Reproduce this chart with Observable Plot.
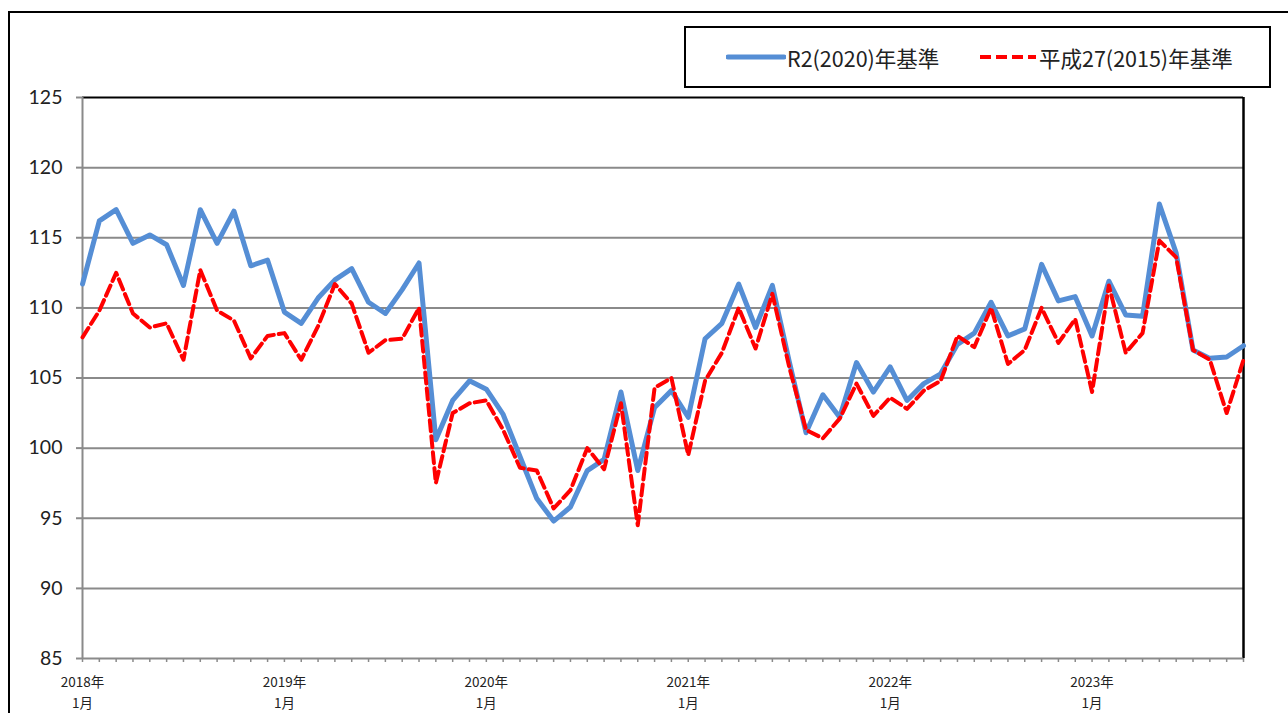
<!DOCTYPE html>
<html>
<head>
<meta charset="utf-8">
<script src="https://cdn.jsdelivr.net/npm/d3@7"></script>
<script src="https://cdn.jsdelivr.net/npm/@observablehq/plot@0.6"></script>
<style>
  html, body { margin: 0; padding: 0; background: #fff; }
  #wrap { position: relative; width: 1288px; height: 713px; overflow: hidden; background: #fff; }
  #frame { position: absolute; left: 8px; top: 11px; width: 1400px; height: 800px; border: 2px solid #000; box-sizing: border-box; }
  #legend { position: absolute; left: 684px; top: 26px; width: 587px; height: 62px; border: 2px solid #000; box-sizing: border-box; background: #fff;
            font-family: "Noto Sans CJK JP", "Noto Sans", sans-serif; font-size: 21.5px; color: #222; }
  .item { position: absolute; top: 0; height: 58px; display: flex; align-items: center; white-space: nowrap; }
  .item svg { display: block; margin-right: 1px; }
  #chart { position: absolute; left: 0; top: 0; }
</style>
</head>
<body>
<div id="wrap">
  <div id="frame"></div>
  <div id="chart"></div>
  <div id="legend"></div>
</div>
<script>
// Series names
const seriesNames = ["R2(2020)年基準", "平成27(2015)年基準"];
// Month index 0 = 2018年1月 ... 69 = 2023年10月
const startYear = 2018;
const r2 = [
  111.7,116.2,117.0,114.6,115.2,114.5,111.6,117.0,114.6,116.9,113.0,113.4,
  109.7,108.9,110.7,112.0,112.8,110.4,109.6,111.3,113.2,100.6,103.4,104.8,
  104.2,102.4,99.4,96.4,94.8,95.8,98.4,99.2,104.0,98.4,102.9,104.1,
  102.2,107.8,108.9,111.7,108.6,111.6,106.2,101.1,103.8,102.2,106.1,104.0,
  105.8,103.4,104.6,105.3,107.4,108.2,110.4,108.0,108.5,113.1,110.5,110.8,
  108.0,111.9,109.5,109.4,117.4,113.9,107.0,106.4,106.5,107.3
];
const h27 = [
  107.9,109.8,112.5,109.6,108.6,108.9,106.3,112.7,109.8,109.1,106.4,108.0,
  108.2,106.3,108.7,111.7,110.3,106.8,107.7,107.8,110.0,97.5,102.5,103.2,
  103.4,101.3,98.6,98.4,95.7,97.0,100.0,98.5,103.2,94.5,104.3,105.0,
  99.5,104.8,106.8,110.0,107.1,111.0,105.8,101.3,100.7,102.1,104.6,102.3,
  103.6,102.8,104.1,104.8,108.0,107.2,110.0,106.0,107.0,110.0,107.5,109.2,
  104.0,111.6,106.8,108.2,114.8,113.6,107.0,106.3,102.5,106.3
];
const yTicks = [85, 90, 95, 100, 105, 110, 115, 120, 125];
const xLabelIdx = [0, 12, 24, 36, 48, 60];
const xLabels = ["2018年\n1月", "2019年\n1月", "2020年\n1月", "2021年\n1月", "2022年\n1月", "2023年\n1月"];

const n = r2.length;
const dataR2 = r2.map((v, i) => ({i, v}));
const dataH27 = h27.map((v, i) => ({i, v}));

const blue = "#558ED5";
const red = "#FF0000";
const grid = "#8a8a8a";

const chart = Plot.plot({
  width: 1288,
  height: 713,
  marginLeft: 82,
  marginRight: 45,
  marginTop: 97,
  marginBottom: 55,
  style: {background: "transparent", overflow: "visible"},
  x: {type: "linear", domain: [0, n - 1]},
  y: {domain: [85, 125]},
  marks: [
    Plot.ruleY(yTicks.filter(t => t > 85 && t < 125), {stroke: grid, strokeWidth: 2}),
    Plot.ruleY([125], {stroke: "#000", strokeWidth: 2}),
    Plot.ruleX([n - 1], {stroke: "#000", strokeWidth: 2.5}),
    Plot.ruleX([0], {stroke: grid, strokeWidth: 2}),
    Plot.ruleY([85], {stroke: grid, strokeWidth: 2}),
    Plot.axisY({ticks: yTicks, tickSize: 6, tickPadding: 14, stroke: grid, strokeWidth: 2,
      fontSize: 19.5, fontFamily: "Lato, 'Noto Sans', sans-serif", fill: "#222", label: null}),
    Plot.axisX({ticks: d3.range(n), tickSize: 4, tickFormat: () => "", stroke: grid, strokeWidth: 1.5, label: null}),
    Plot.axisX({ticks: xLabelIdx, tickSize: 0, tickPadding: 14, tickFormat: (d) => xLabels[xLabelIdx.indexOf(d)],
      fontSize: 13.5, lineHeight: 1.55, fontFamily: "'Noto Sans CJK JP', sans-serif", fill: "#222", label: null}),
    Plot.line(dataR2, {x: "i", y: "v", stroke: blue, strokeWidth: 5, strokeLinejoin: "round", strokeLinecap: "round"}),
    Plot.line(dataH27, {x: "i", y: "v", stroke: red, strokeWidth: 4, strokeDasharray: "11,5", strokeLinejoin: "round"})
  ]
});
document.getElementById("chart").appendChild(chart);

// Legend
const legend = document.getElementById("legend");
const items = [
  {name: seriesNames[0], left: 40, color: blue, width: 5, dash: null},
  {name: seriesNames[1], left: 292, color: red, width: 4, dash: "11,5"}
];
for (const it of items) {
  const div = document.createElement("div");
  div.className = "item";
  div.style.left = it.left + "px";
  const svg = d3.create("svg").attr("width", 60).attr("height", 10);
  svg.append("line").attr("x1", 2).attr("x2", 58).attr("y1", 5).attr("y2", 5)
    .attr("stroke", it.color).attr("stroke-width", it.width)
    .attr("stroke-linecap", it.dash ? "butt" : "round")
    .attr("stroke-dasharray", it.dash);
  div.appendChild(svg.node());
  const span = document.createElement("span");
  span.textContent = it.name;
  div.appendChild(span);
  legend.appendChild(div);
}
</script>
</body>
</html>
